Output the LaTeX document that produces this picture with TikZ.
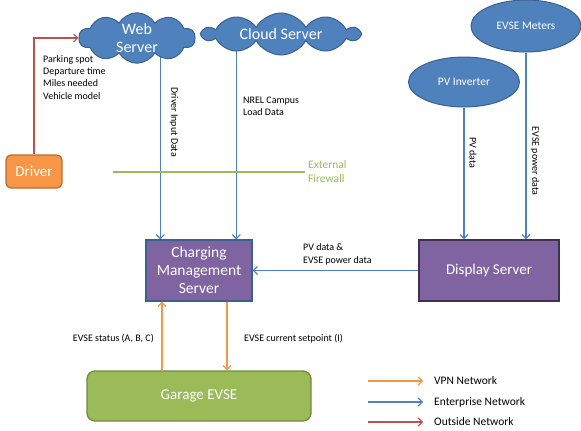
\documentclass[tikz,border=0pt]{standalone}
\usepackage{fontspec}
\setmainfont{Carlito}
\usetikzlibrary{arrows.meta,shapes.symbols,shapes.geometric,backgrounds}

\definecolor{nblue}{HTML}{4F81BD}
\definecolor{cblue}{HTML}{3A6190}
\definecolor{norange}{HTML}{F79646}
\definecolor{dorange}{HTML}{B66D31}
\definecolor{nred}{HTML}{C0504D}
\definecolor{npurple}{HTML}{8064A2}
\definecolor{dpurple}{HTML}{403152}
\definecolor{ngreen}{HTML}{9BBB59}
\definecolor{dgreen}{HTML}{71893F}

\tikzset{
  netw/.style={line width=1.2pt,-{Straight Barb[length=4pt,width=8pt]}},
  vpn/.style={netw,draw=norange},
  ent/.style={netw,draw=nblue},
  outs/.style={netw,draw=nred},
  small/.style={font=\fontsize{10}{12.4}\selectfont,align=left,inner sep=0pt},
  mid/.style={font=\fontsize{11.5}{14}\selectfont,align=left,inner sep=0pt},
  cloudbox/.style={cloud,cloud puffs=10,cloud puff arc=120,cloud ignores aspect,draw=cblue,fill=nblue,
    line width=1pt,text=white,inner sep=0pt,align=center,font=\fontsize{16}{18.5}\selectfont},
  ovalbox/.style={ellipse,draw=cblue,fill=nblue,line width=1pt,text=white,inner sep=0pt,
    font=\fontsize{11.5}{14}\selectfont},
  srvbox/.style={rectangle,fill=npurple,line width=1.3pt,text=white,align=center,
    font=\fontsize{15}{18}\selectfont}
}

\begin{document}
\begin{tikzpicture}[x=1pt,y=-1pt]
\useasboundingbox (0,0) rectangle (581,431);

\node[cloudbox,minimum width=116pt,minimum height=48pt] (web) at (137,38) {Web\\Server};
\node[cloudbox,minimum width=156pt,minimum height=42pt] (cloudsrv) at (281,34) {Cloud Server};
\node[ovalbox,minimum width=110pt,minimum height=52pt] (meters) at (526,26) {EVSE Meters};
\node[ovalbox,minimum width=111pt,minimum height=50pt] (pv) at (464,82) {PV Inverter};
\node[srvbox,draw=dorange,fill=norange,rounded corners=5pt,minimum width=56pt,minimum height=33pt] (driver) at (34,171.5) {Driver};
\node[srvbox,draw=cblue,minimum width=106pt,minimum height=61pt,font=\fontsize{15.5}{18}\selectfont] (cms) at (199,270.5) {Charging\\Management\\Server};
\node[srvbox,draw=dpurple,minimum width=140pt,minimum height=61pt] (disp) at (489,270.5) {Display Server};
\node[srvbox,draw=dgreen,fill=ngreen,rounded corners=8pt,minimum width=224pt,minimum height=50pt] (evse) at (199,396) {Garage EVSE};

\coordinate (cmsA) at ([xshift=15pt]cms.north west);
\coordinate (cmsB) at ([xshift=91pt]cms.north west);
\coordinate (evA) at ([xshift=-37pt]evse.north);
\coordinate (evB) at ([xshift=28pt]evse.north);

\begin{scope}[on background layer]
\draw[ent] (web.center -| cmsA) -- (cmsA);
\draw[ent] (cloudsrv.center -| cmsB) -- (cmsB);
\end{scope}
\draw[ent] (pv.south) -- (pv.south |- disp.north);
\draw[ent] (meters.south) -- (meters.south |- disp.north);
\draw[ent] (disp.west) -- (cms.east);
\draw[outs] (driver.north) |- (web.west);
\draw[vpn] (evA) -- (evA |- cms.south);
\draw[vpn] (evB |- cms.south) -- (evB);

\coordinate (fwA) at (113,172);
\node[mid,text=ngreen,inner sep=3pt,anchor=west] (fw) at (305,172) {External\\Firewall};
\draw[ngreen,line width=1.8pt] (fwA) -- (fw.west);

\node[small,anchor=north west] (info) at (43,55) {Parking spot\\Departure time\\Miles needed\\Vehicle model};
\node[small,rotate=-90] (dinp) at (174,122) {Driver Input Data};
\node[small,anchor=west] (nrel) at (243,106.5) {NREL Campus\\Load Data};
\node[small,rotate=-90] (pvd) at (473,153) {PV data};
\node[small,rotate=-90] (epd) at (535,161) {EVSE power data};
\node[small,anchor=west] (pvep) at (303,254.5) {PV data \&\\EVSE power data};
\node[small,anchor=east] (stat) at (154,339) {EVSE status (A, B, C)};
\node[small,anchor=west] (setp) at (244,339) {EVSE current setpoint (I)};

\node[mid,anchor=west] (lvpn) at (434,381) {VPN Network};
\node[mid,anchor=west] (lent) at (434,402) {Enterprise Network};
\node[mid,anchor=west] (lout) at (434,422) {Outside Network};
\coordinate (lvpnA) at (368,381);
\coordinate (lentA) at (368,402);
\coordinate (loutA) at (368,422);
\draw[vpn] (lvpnA) -- ([xshift=-11pt]lvpn.west);
\draw[ent] (lentA) -- ([xshift=-11pt]lent.west);
\draw[outs] (loutA) -- ([xshift=-11pt]lout.west);

\end{tikzpicture}
\end{document}
